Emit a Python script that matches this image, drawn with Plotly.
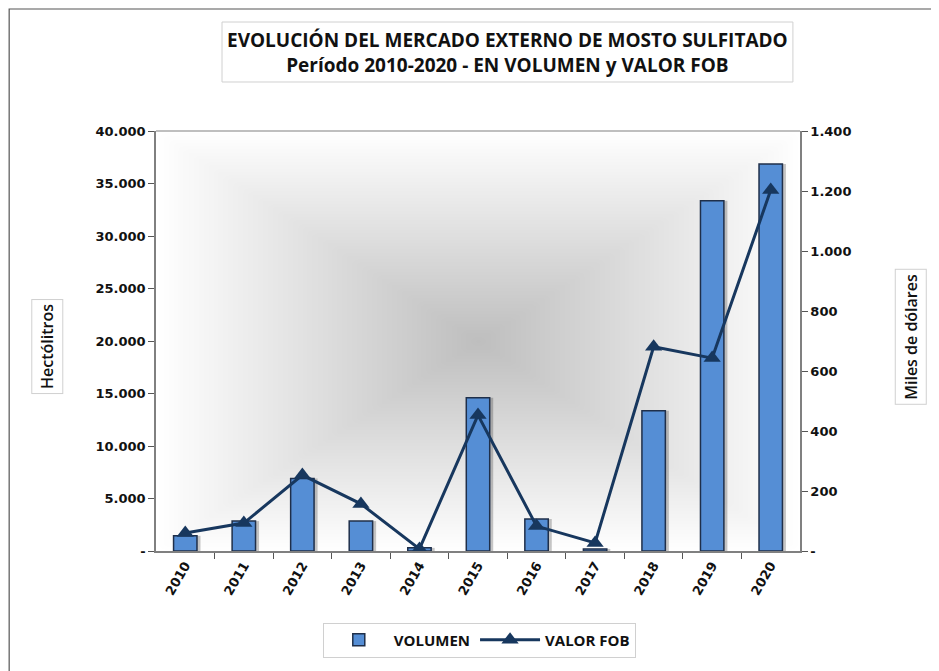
import plotly.graph_objects as go
import numpy as np

years = [2010, 2011, 2012, 2013, 2014, 2015, 2016, 2017, 2018, 2019, 2020]
volumen_hl = [1450, 2850, 6900, 2850, 300, 14600, 3050, 200, 13350, 33350, 36850]
valor_fob = [60, 93, 253, 157, 7, 453, 83, 27, 681, 643, 1203]

left_ticks = [0, 5000, 10000, 15000, 20000, 25000, 30000, 35000, 40000]
left_labels = ["-", "5.000", "10.000", "15.000", "20.000", "25.000", "30.000", "35.000", "40.000"]
right_ticks = [0, 200, 400, 600, 800, 1000, 1200, 1400]
right_labels = ["-", "200", "400", "600", "800", "1.000", "1.200", "1.400"]

blue = "#558ED5"
navy = "#17375E"
edge = "#1F2F4A"
tick_font = dict(family="DejaVu Sans", size=13, color="#111111", weight="bold")
label_font = "Open Sans"

# background "from center" gradient of the plot area (style only)
gx = np.linspace(2009.5, 2020.5, 61)
gy = np.linspace(0, 40000, 61)
u = np.abs(gx - 2015.0) / 5.5
v = np.abs(gy - 20000) / 20000
shade = np.maximum(u[None, :], v[:, None])

fig = go.Figure()

fig.add_trace(go.Heatmap(
    x=gx, y=gy, z=shade,
    colorscale=[[0, "#bebebe"], [0.8, "#f2f2f2"], [1, "#ffffff"]],
    zmin=0, zmax=1, zsmooth="best", showscale=False, hoverinfo="skip",
))

# soft shadow behind the bars
fig.add_trace(go.Bar(
    x=years, y=volumen_hl, width=0.4, offset=-0.14,
    marker=dict(color="rgba(0,0,0,0.22)", line=dict(width=0)),
    showlegend=False, hoverinfo="skip",
))

fig.add_trace(go.Bar(
    x=years, y=volumen_hl, name="VOLUMEN", width=0.4, offset=-0.2,
    marker=dict(color=blue, line=dict(color=edge, width=1.5)),
))

fig.add_trace(go.Scatter(
    x=years, y=valor_fob, name="VALOR FOB", yaxis="y2",
    mode="lines+markers",
    line=dict(color=navy, width=3),
    marker=dict(symbol="triangle-up", size=15, color=navy),
))

# page body adds an 8px offset, so the figure is 8px smaller on each side
fig.update_layout(
    width=931, height=663,
    margin=dict(l=148, r=139, t=123, b=120, autoexpand=False),
    paper_bgcolor="white", plot_bgcolor="white",
    barmode="overlay",
    showlegend=True,
    legend=dict(
        orientation="h", x=0.502, xanchor="center", y=-0.212, yanchor="middle",
        bordercolor="#d0d0d0", borderwidth=1,
        font=dict(family=label_font, size=15, color="#111111", weight="bold"),
        itemwidth=60, traceorder="normal",
    ),
    xaxis=dict(
        range=[2009.5, 2020.5], tickvals=years, ticktext=[str(y) for y in years],
        ticks="", tickangle=-60, tickfont=tick_font, automargin=False,
        showgrid=False, zeroline=False,
        showline=True, linecolor="#808080", linewidth=1.5,
        minor=dict(tickvals=[y + 0.5 for y in years[:-1]], ticks="outside",
                   ticklen=6, tickcolor="#555555", showgrid=False),
    ),
    yaxis=dict(
        range=[0, 40000], tickvals=left_ticks, ticktext=left_labels,
        ticks="outside", ticklen=6, tickcolor="#555555", tickfont=tick_font,
        showgrid=False, zeroline=False, automargin=False,
        showline=True, linecolor="#808080", linewidth=1.5,
    ),
    yaxis2=dict(
        range=[0, 1400], tickvals=right_ticks, ticktext=right_labels,
        overlaying="y", side="right", automargin=False,
        ticks="outside", ticklen=6, tickcolor="#555555", tickfont=tick_font,
        showgrid=False, zeroline=False,
        showline=True, linecolor="#808080", linewidth=1.5,
    ),
    shapes=[
        # outer chart frame
        dict(type="rect", xref="paper", yref="paper",
             x0=-0.228, x1=1.2065, y0=-0.4, y1=1.2905,
             line=dict(color="#555555", width=1.2)),
        # top border of plot area
        dict(type="line", xref="paper", yref="paper",
             x0=0, x1=1, y0=1, y1=1,
             line=dict(color="#808080", width=1.2)),
        # title box
        dict(type="rect", xref="paper", yref="paper",
             x0=0.1025, x1=0.989, y0=1.1167, y1=1.2595,
             line=dict(color="#d0d0d0", width=1)),
    ],
    annotations=[
        dict(text="EVOLUCIÓN DEL MERCADO EXTERNO DE MOSTO SULFITADO<br>Período 2010-2020 - EN VOLUMEN y VALOR FOB",
             xref="paper", yref="paper", x=0.5458, y=1.186,
             xanchor="center", yanchor="middle", showarrow=False,
             font=dict(family=label_font, size=19, color="#111111", weight="bold")),
        dict(text="Hectólitros", xref="paper", yref="paper",
             x=-0.169, y=0.486, textangle=-90, showarrow=False,
             xanchor="center", yanchor="middle",
             bordercolor="#d0d0d0", borderwidth=1, borderpad=4,
             font=dict(family=label_font, size=16, color="#111111", weight=600)),
        dict(text="Miles de dólares", xref="paper", yref="paper",
             x=1.172, y=0.5095, textangle=-90, showarrow=False,
             xanchor="center", yanchor="middle",
             bordercolor="#d0d0d0", borderwidth=1, borderpad=4,
             font=dict(family=label_font, size=16, color="#111111", weight=600)),
    ],
)

fig.write_html("out.html")
